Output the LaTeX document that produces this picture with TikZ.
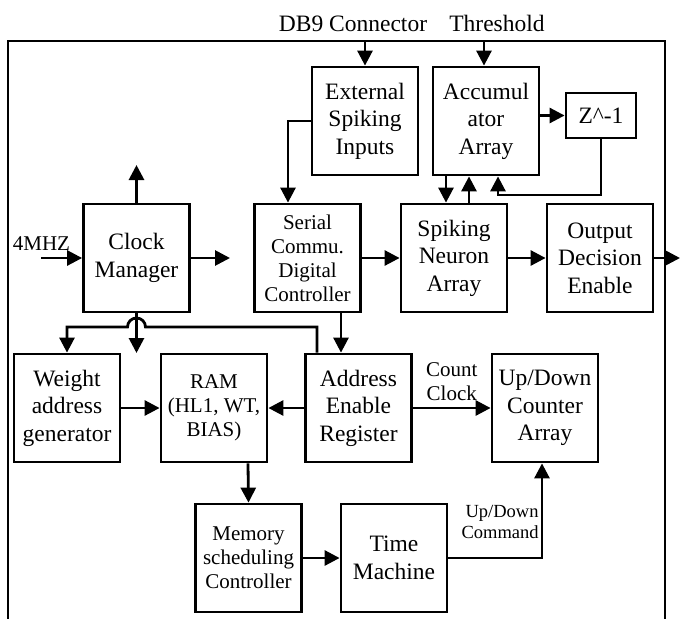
\documentclass[tikz,border=0pt]{standalone}
\usepackage{fontspec}
\setmainfont{Liberation Serif}
\usetikzlibrary{arrows.meta}

\begin{document}
\begin{tikzpicture}[x=1pt,y=-1pt,
  blk/.style={draw,line width=2.8pt,minimum width=106pt,minimum height=108pt,
    align=center,inner sep=0pt,font=\fontsize{23.5}{27.5}\selectfont},
  blks/.style={blk,font=\fontsize{21}{24}\selectfont},
  arr/.style={line width=2.8pt,-{Triangle[length=15pt,width=15pt]}},
  lbl/.style={inner sep=0pt,align=center,font=\fontsize{21}{24}\selectfont}]
\useasboundingbox (0,0) rectangle (681,619);
\draw[line width=2.8pt] (8,619) |- (665,41) -- (665,619);
\coordinate (top) at (0,41);
\node[lbl,anchor=base,font=\fontsize{23.5}{27.5}\selectfont] (db9) at (353,31) {DB9 Connector};
\node[lbl,anchor=base,font=\fontsize{23.5}{27.5}\selectfont] (thr) at (497,31) {Threshold};
\node[blk] (ext) at (365,121) {External\\Spiking\\Inputs};
\node[blk] (acc) at (486,121) {Accumul\\ator\\Array};
\node[blk,minimum width=70pt,minimum height=45pt] (z) at (601,115.5) {Z\textasciicircum-1};
\node[blk] (clk) at (136.5,258) {Clock\\Manager};
\node[blks] (ser) at (307.5,258) {Serial\\Commu.\\Digital\\Controller};
\node[blk] (spk) at (454,258) {Spiking\\Neuron\\Array};
\node[blk] (out) at (600,258) {Output\\Decision\\Enable};
\node[blk] (wag) at (67,408) {Weight\\address\\generator};
\node[blks] (ram) at (214,408) {RAM\\(HL1, WT,\\BIAS)};
\node[blk] (aer) at (358.5,408) {Address\\Enable\\Register};
\node[blk] (cnt) at (545,408) {Up/Down\\Counter\\Array};
\node[blks] (mem) at (248.5,558) {Memory\\scheduling\\Controller};
\node[blk] (tm) at (394,558) {Time\\Machine};
\node[lbl,anchor=base] (mhz) at (41.5,250) {4MHZ};
\coordinate (mhzin) at (41,258);
\coordinate (clkup) at (136.5,165);
\coordinate (clkr) at (230,258);
\coordinate (clkdn) at (136.5,353);
\coordinate (outr) at (680,258);
\draw[arr] (ext.north |- top) -- (ext.north);
\draw[arr] ([xshift=-2pt]acc.north |- top) -- ([xshift=-2pt]acc.north);
\draw[arr] (acc.east |- z.west) -- (z.west);
\draw[arr] (z.south) -- (z.south |- 0,195) -| ([xshift=12pt]acc.south);
\draw[arr] ([xshift=-40pt]acc.south) -- ([xshift=-8pt]spk.north);
\draw[arr] ([xshift=15pt]spk.north) -- ([xshift=-17pt]acc.south);
\draw[arr] (ext.west) -| ([xshift=-19.5pt]ser.north);
\draw[arr] (mhzin) -- (clk.west);
\draw[arr] (clk.north) -- (clkup);
\draw[arr] (clk.east) -- (clkr);
\draw[arr] (clk.south) -- (clkdn);
\draw[arr] (ser.east) -- (spk.west);
\draw[arr] (spk.east) -- (out.west);
\draw[arr] (out.east) -- (outr);
\draw[arr] ([xshift=33.5pt]ser.south) -- ([xshift=-17.5pt]aer.north);
\draw[arr] ([xshift=-41.5pt]aer.north) |- (145.5,327)
  arc[start angle=0,end angle=180,radius=9pt] -| (wag.north);
\draw[arr] (wag.east) -- (ram.west);
\draw[arr] (aer.west) -- (ram.east);
\draw[arr] (aer.east) -- node[lbl,above=6pt]{Count\\Clock} (cnt.west);
\draw[arr] ([xshift=34pt]ram.south) -- (mem.north);
\draw[arr] (mem.east) -- (tm.west);
\draw[arr] (tm.east) -| node[lbl,pos=0.69,left=2pt,align=right,
  font=\fontsize{18.5}{21}\selectfont]{Up/Down\\Command} ([xshift=-3pt]cnt.south);
\end{tikzpicture}
\end{document}
